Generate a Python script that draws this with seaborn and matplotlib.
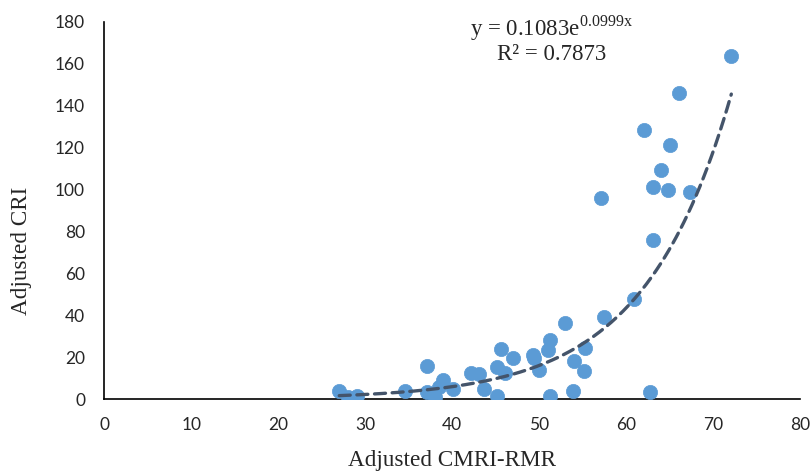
import numpy as np
import pandas as pd
import matplotlib
matplotlib.use("Agg")
import matplotlib.pyplot as plt
import seaborn as sns

# Данные
cmri_rmr = [27.0, 28.0, 29.0, 34.6, 37.1, 37.1, 38.0, 38.5, 38.9, 40.1,
            42.1, 43.1, 43.6, 45.1, 45.1, 45.6, 46.1, 47.0, 49.3, 49.4,
            50.0, 51.0, 51.2, 51.3, 53.0, 53.9, 54.0, 55.2, 55.3, 57.5,
            60.9, 62.8, 57.1, 63.1, 63.1, 64.8, 67.4, 64.0, 65.1, 62.1,
            66.1, 72.1]
cri = [4.0, 1.0, 1.4, 4.0, 15.8, 3.5, 1.1, 5.5, 9.1, 4.8,
       12.6, 12.0, 4.8, 1.4, 15.5, 23.9, 12.6, 19.6, 21.1, 19.6,
       13.9, 23.4, 28.2, 1.4, 36.2, 4.0, 18.3, 13.5, 24.4, 39.1,
       47.7, 3.5, 95.8, 75.9, 101.3, 99.5, 98.7, 109.4, 121.2, 128.2,
       145.9, 163.4]

# Параметры экспоненциальной линии тренда
fit_a = 0.1083
fit_b = 0.0999
r2 = 0.7873

df = pd.DataFrame({"x": cmri_rmr, "y": cri})
xs = np.linspace(min(cmri_rmr), max(cmri_rmr), 200)
trend = pd.DataFrame({"x": xs, "y": fit_a * np.exp(fit_b * xs)})

sns.set_style("white")
plt.rcParams["mathtext.fontset"] = "custom"
plt.rcParams["mathtext.rm"] = "Liberation Serif"

fig = plt.figure(figsize=(8.12, 4.73), dpi=100)
ax = fig.add_axes([104.5 / 812, 74 / 473, 695.5 / 812, 377.3 / 473])

sns.scatterplot(data=df, x="x", y="y", ax=ax, color="#5B9BD5", s=105,
                edgecolor="#5B9BD5", linewidth=0.5, zorder=3)
sns.lineplot(data=trend, x="x", y="y", ax=ax, color="#44546A", lw=2.4,
             dashes=False, zorder=4)
ax.lines[-1].set_dashes((3.3, 2.0))
ax.lines[-1].set_dash_capstyle("round")

ax.set_xlim(0, 80)
ax.set_ylim(0, 180)
ax.set_xticks(range(0, 81, 10))
ax.set_yticks(range(0, 181, 20))
ax.tick_params(axis="both", length=0, labelsize=12.5, labelcolor="#262626")
ax.tick_params(axis="x", pad=13)
ax.tick_params(axis="y", pad=14)
for lab in ax.get_xticklabels() + ax.get_yticklabels():
    lab.set_family("Lato")

sns.despine(ax=ax)
for side in ["left", "bottom"]:
    ax.spines[side].set_color("black")
    ax.spines[side].set_linewidth(1.2)

ax.set_xlabel("Adjusted CMRI-RMR", family="Liberation Serif", fontsize=16.7)
ax.set_ylabel("Adjusted CRI", family="Liberation Serif", fontsize=16.7)
ax.xaxis.set_label_coords(0.5, -0.164)
ax.xaxis.label.set_va("center")
ax.yaxis.set_label_coords(-0.119, 0.392)
ax.yaxis.label.set_va("center")

ax.text((551 - 104.5) / 695.5, (399 - 28) / 377.3,
        r"y = 0.1083e$^{\mathrm{0.0999x}}$",
        transform=ax.transAxes, ha="center", va="center",
        family="Liberation Serif", fontsize=16.5)
ax.text((552 - 104.5) / 695.5, (399 - 54) / 377.3, f"R² = {r2:.4f}",
        transform=ax.transAxes, ha="center", va="center",
        family="Liberation Serif", fontsize=16.5)

fig.savefig("out.png", dpi=100)
